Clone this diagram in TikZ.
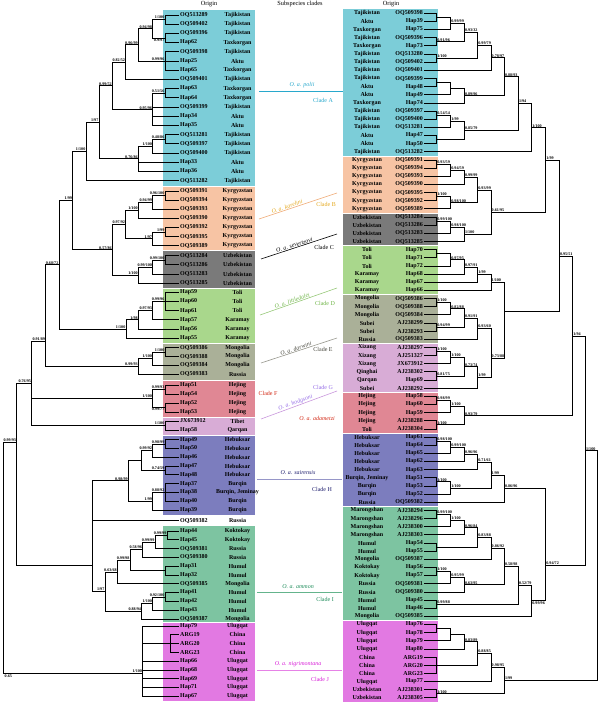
\documentclass[tikz,border=0pt]{standalone}
\usepackage{fontspec}
\setmainfont{Liberation Serif}
\definecolor{cA}{RGB}{124,205,216}
\definecolor{cB}{RGB}{247,196,164}
\definecolor{cC}{RGB}{122,122,122}
\definecolor{cD}{RGB}{169,215,140}
\definecolor{cE}{RGB}{170,176,152}
\definecolor{cF}{RGB}{224,135,148}
\definecolor{cG}{RGB}{216,172,214}
\definecolor{cH}{RGB}{124,125,190}
\definecolor{cI}{RGB}{125,196,161}
\definecolor{cJ}{RGB}{226,121,226}
\definecolor{tA}{RGB}{40,168,204}
\definecolor{tB}{RGB}{228,168,30}
\definecolor{lB}{RGB}{238,165,110}
\definecolor{tD}{RGB}{110,180,70}
\definecolor{lD}{RGB}{150,200,120}
\definecolor{tE}{RGB}{70,70,60}
\definecolor{lE}{RGB}{150,150,140}
\definecolor{tG}{RGB}{150,110,230}
\definecolor{lG}{RGB}{200,150,220}
\definecolor{tF}{RGB}{210,40,20}
\definecolor{tH}{RGB}{30,30,110}
\definecolor{lH}{RGB}{150,150,200}
\definecolor{tI}{RGB}{30,140,90}
\definecolor{lI}{RGB}{100,180,140}
\definecolor{tJ}{RGB}{215,30,215}
\definecolor{lJ}{RGB}{230,130,230}
\newcommand{\LL}[4]{\node[lf] (L#1) at (179,#2) {#3}; \node[og] (OL#1) at (237.5,#2) {#4};}
\newcommand{\RL}[3]{\node[rf] (R#1) at (424,{13.3+(#1-1)*8.15}) {#2}; \node[og] (OR#1) at (367,{13.3+(#1-1)*8.15}) {#3};}
\newcommand{\N}[3]{\coordinate (#1) at (#2,#3);}
\newcommand{\E}[2]{\foreach \ch in {#2}{\draw[br] (#1) |- (\ch);}}
\newcommand{\SA}[2]{\node[sl,anchor=south east] (s-#1) at (#1) {#2};}
\newcommand{\SB}[2]{\node[sl,anchor=north east] (s-#1) at (#1) {#2};}
\newcommand{\RA}[2]{\node[sl,anchor=south west] (s-#1) at (#1) {#2};}
\newcommand{\RB}[2]{\node[sl,anchor=north west] (s-#1) at (#1) {#2};}
\begin{document}
\begin{tikzpicture}[x=1pt,y=-1pt,
  br/.style={line width=0.85pt,black},
  lf/.style={font=\fontsize{6}{7}\selectfont\bfseries,inner sep=1pt,anchor=west},
  rf/.style={font=\fontsize{6}{7}\selectfont\bfseries,inner sep=1pt,anchor=east},
  og/.style={font=\fontsize{6}{7}\selectfont\bfseries,inner sep=0pt},
  sl/.style={font=\fontsize{4.1}{5}\selectfont\bfseries,inner sep=0.5pt},
  hd/.style={font=\fontsize{6.3}{7}\selectfont,inner sep=0pt,anchor=base},
  mt/.style={font=\fontsize{6}{7}\selectfont,inner sep=0.5pt},
  ml/.style={line width=0.6pt}]
\useasboundingbox (0,0) rectangle (600,703);
% ---------- boxes left
\fill[cA] (163,10.5) rectangle (255,186.3);
\fill[cB] (163,187.3) rectangle (255,250);
\fill[cC] (163,251) rectangle (255,287.8);
\fill[cD] (163,288.8) rectangle (255,342.8);
\fill[cE] (163,343.8) rectangle (255,379.5);
\fill[cF] (163,380.5) rectangle (255,416.5);
\fill[cG] (163,417.5) rectangle (255,434.8);
\fill[cH] (163,435.8) rectangle (255,515.2);
\fill[cI] (163,526.2) rectangle (255,621.5);
\fill[cJ] (163,622.5) rectangle (255,700.7);
% ---------- boxes right
\fill[cA] (343,9.5) rectangle (438,155.9);
\fill[cB] (343,156.9) rectangle (438,212.9);
\fill[cC] (343,213.9) rectangle (438,245.3);
\fill[cD] (343,246.3) rectangle (438,294.2);
\fill[cE] (343,295.2) rectangle (438,343);
\fill[cG] (343,344) rectangle (438,391.9);
\fill[cF] (343,392.9) rectangle (438,432.6);
\fill[cH] (343,433.6) rectangle (438,505.9);
\fill[cI] (343,506.9) rectangle (438,620.1);
\fill[cJ] (343,621.1) rectangle (438,701.8);
% ---------- headers
\node[hd] (h1) at (209,6) {Origin};
\node[hd] (h2) at (300,6) {Subspecies clades};
\node[hd] (h3) at (391,6) {Origin};
% ---------- left leaves
\LL{1}{15}{OQ513289}{Tajikistan}
\LL{2}{24.2}{OQ509402}{Tajikistan}
\LL{3}{33.4}{OQ509396}{Tajikistan}
\LL{4}{42.6}{Hap62}{Taxkorgan}
\LL{5}{51.8}{OQ509398}{Tajikistan}
\LL{6}{61}{Hap25}{Aktu}
\LL{7}{70.2}{Hap65}{Taxkorgan}
\LL{8}{79.4}{OQ509401}{Tajikistan}
\LL{9}{88.6}{Hap63}{Taxkorgan}
\LL{10}{97.8}{Hap64}{Taxkorgan}
\LL{11}{107}{OQ509399}{Tajikistan}
\LL{12}{116.2}{Hap34}{Aktu}
\LL{13}{125.4}{Hap35}{Aktu}
\LL{14}{134.6}{OQ513281}{Tajikistan}
\LL{15}{143.8}{OQ509397}{Tajikistan}
\LL{16}{153}{OQ509400}{Tajikistan}
\LL{17}{162.2}{Hap33}{Aktu}
\LL{18}{171.4}{Hap36}{Aktu}
\LL{19}{180.6}{OQ513282}{Tajikistan}
\LL{20}{191}{OQ509391}{Kyrgyzstan}
\LL{21}{200.1}{OQ509394}{Kyrgyzstan}
\LL{22}{209.2}{OQ509393}{Kyrgyzstan}
\LL{23}{218.3}{OQ509390}{Kyrgyzstan}
\LL{24}{227.4}{OQ509392}{Kyrgyzstan}
\LL{25}{236.5}{OQ509395}{Kyrgyzstan}
\LL{26}{245.6}{OQ509389}{Kyrgyzstan}
\LL{27}{255.7}{OQ513284}{Uzbekistan}
\LL{28}{264.9}{OQ513286}{Uzbekistan}
\LL{29}{274.1}{OQ513283}{Uzbekistan}
\LL{30}{283.3}{OQ513285}{Uzbekistan}
\LL{31}{292.3}{Hap59}{Toli}
\LL{32}{301.5}{Hap60}{Toli}
\LL{33}{310.7}{Hap61}{Toli}
\LL{34}{319.9}{Hap57}{Karamay}
\LL{35}{329.1}{Hap56}{Karamay}
\LL{36}{338.3}{Hap55}{Karamay}
\LL{37}{347.7}{OQ509386}{Mongolia}
\LL{38}{356.5}{OQ509388}{Mongolia}
\LL{39}{365.3}{OQ509384}{Mongolia}
\LL{40}{374}{OQ509383}{Russia}
\LL{41}{385}{Hap51}{Hejing}
\LL{42}{394}{Hap54}{Hejing}
\LL{43}{403}{Hap52}{Hejing}
\LL{44}{412}{Hap53}{Hejing}
\LL{45}{421}{JX673912}{Tibet}
\LL{46}{430.3}{Hap58}{Qarqan}
\LL{47}{439.7}{Hap49}{Hebuksar}
\LL{48}{448.5}{Hap50}{Hebuksar}
\LL{49}{457.3}{Hap46}{Hebuksar}
\LL{50}{466.1}{Hap47}{Hebuksar}
\LL{51}{474.9}{Hap48}{Hebuksar}
\LL{52}{483.7}{Hap37}{Burqin}
\LL{53}{492.4}{Hap38}{Burqin, Jeminay}
\LL{54}{501.2}{Hap40}{Burqin}
\LL{55}{510}{Hap39}{Burqin}
\LL{56}{520.7}{OQ509382}{Russia}
\LL{57}{531}{Hap44}{Koktokay}
\LL{58}{539.8}{Hap45}{Koktokay}
\LL{59}{548.6}{OQ509381}{Russia}
\LL{60}{557.4}{OQ509380}{Russia}
\LL{61}{566.2}{Hap31}{Humul}
\LL{62}{575}{Hap32}{Humul}
\LL{63}{583.8}{OQ509385}{Mongolia}
\LL{64}{592.6}{Hap41}{Humul}
\LL{65}{601.4}{Hap42}{Humul}
\LL{66}{610.2}{Hap43}{Humul}
\LL{67}{619}{OQ509387}{Mongolia}
\LL{68}{626}{Hap79}{Ulugqat}
\LL{69}{634.8}{ARG19}{China}
\LL{70}{643.6}{ARG20}{China}
\LL{71}{652.4}{ARG23}{China}
\LL{72}{661.2}{Hap66}{Ulugqat}
\LL{73}{670}{Hap68}{Ulugqat}
\LL{74}{678.7}{Hap69}{Ulugqat}
\LL{75}{687.5}{Hap71}{Ulugqat}
\LL{76}{696.3}{Hap67}{Ulugqat}
% ---------- right leaves
\RL{1}{OQ509398}{Tajikistan}
\RL{2}{Hap39}{Aktu}
\RL{3}{Hap75}{Taxkorgan}
\RL{4}{OQ509396}{Tajikistan}
\RL{5}{Hap73}{Taxkorgan}
\RL{6}{OQ513280}{Tajikistan}
\RL{7}{OQ509402}{Tajikistan}
\RL{8}{OQ509401}{Tajikistan}
\RL{9}{OQ509399}{Tajikistan}
\RL{10}{Hap48}{Aktu}
\RL{11}{Hap49}{Aktu}
\RL{12}{Hap74}{Taxkorgan}
\RL{13}{OQ509397}{Tajikistan}
\RL{14}{OQ509400}{Tajikistan}
\RL{15}{OQ513281}{Tajikistan}
\RL{16}{Hap47}{Aktu}
\RL{17}{Hap50}{Aktu}
\RL{18}{OQ513282}{Tajikistan}
\RL{19}{OQ509391}{Kyrgyzstan}
\RL{20}{OQ509394}{Kyrgyzstan}
\RL{21}{OQ509393}{Kyrgyzstan}
\RL{22}{OQ509390}{Kyrgyzstan}
\RL{23}{OQ509395}{Kyrgyzstan}
\RL{24}{OQ509392}{Kyrgyzstan}
\RL{25}{OQ509389}{Kyrgyzstan}
\RL{26}{OQ513284}{Uzbekistan}
\RL{27}{OQ513286}{Uzbekistan}
\RL{28}{OQ513283}{Uzbekistan}
\RL{29}{OQ513285}{Uzbekistan}
\RL{30}{Hap70}{Toli}
\RL{31}{Hap71}{Toli}
\RL{32}{Hap72}{Toli}
\RL{33}{Hap68}{Karamay}
\RL{34}{Hap67}{Karamay}
\RL{35}{Hap66}{Karamay}
\RL{36}{OQ509386}{Mongolia}
\RL{37}{OQ509388}{Mongolia}
\RL{38}{OQ509384}{Mongolia}
\RL{39}{AJ238299}{Subei}
\RL{40}{AJ238293}{Subei}
\RL{41}{OQ509383}{Russia}
\RL{42}{AJ238297}{Xizang}
\RL{43}{AJ251327}{Xizang}
\RL{44}{JX673912}{Xizang}
\RL{45}{AJ238302}{Qinghai}
\RL{46}{Hap69}{Qarqan}
\RL{47}{AJ238292}{Subei}
\RL{48}{Hap58}{Hejing}
\RL{49}{Hap60}{Hejing}
\RL{50}{Hap59}{Hejing}
\RL{51}{AJ238288}{Hejing}
\RL{52}{AJ238304}{Toli}
\RL{53}{Hap61}{Hebuksar}
\RL{54}{Hap64}{Hebuksar}
\RL{55}{Hap65}{Hebuksar}
\RL{56}{Hap62}{Hebuksar}
\RL{57}{Hap63}{Hebuksar}
\RL{58}{Hap51}{Burqin, Jeminay}
\RL{59}{Hap53}{Burqin}
\RL{60}{Hap52}{Burqin}
\RL{61}{OQ509382}{Russia}
\RL{62}{AJ238294}{Marongshan}
\RL{63}{AJ238296}{Marongshan}
\RL{64}{AJ238300}{Marongshan}
\RL{65}{AJ238303}{Marongshan}
\RL{66}{Hap54}{Humul}
\RL{67}{Hap55}{Humul}
\RL{68}{OQ509387}{Mongolia}
\RL{69}{Hap56}{Koktokay}
\RL{70}{Hap57}{Koktokay}
\RL{71}{OQ509381}{Russia}
\RL{72}{OQ509380}{Russia}
\RL{73}{Hap45}{Humul}
\RL{74}{Hap46}{Humul}
\RL{75}{OQ509385}{Mongolia}
\RL{76}{Hap76}{Ulugqat}
\RL{77}{Hap78}{Ulugqat}
\RL{78}{Hap79}{Ulugqat}
\RL{79}{Hap80}{Ulugqat}
\RL{80}{ARG19}{China}
\RL{81}{ARG20}{China}
\RL{82}{ARG23}{China}
\RL{83}{Hap77}{Ulugqat}
\RL{84}{AJ238301}{Uzbekistan}
\RL{85}{AJ238305}{Uzbekistan}
% ---------- left tree nodes
\N{a1}{165}{19.6} \N{a2}{165}{38} \N{a3}{152.7}{28.8} \N{a4}{165}{61}
\N{a5}{138.3}{44.9} \N{a6}{125.7}{62.2} \N{a7}{165}{93.2} \N{a8}{152.7}{109.8}
\N{a9}{112.3}{85.8} \N{a10}{165}{139.2} \N{a11}{152.7}{146.1} \N{a12}{138.3}{158.8}
\N{a13}{99}{122.3} \N{a14}{86}{151.5}
\N{b1}{165}{195.5} \N{b2}{152.7}{202.4} \N{b3}{138.3}{210.3} \N{b4}{165}{232}
\N{b5}{152.7}{238.8} \N{b6}{125.7}{224.5}
\N{c1}{165}{260.3} \N{c2}{152.7}{267.2} \N{c3}{138.3}{275.3}
\N{bc}{112.3}{249.9} \N{abc}{72.7}{200.7}
\N{d1}{165}{301.5} \N{d2}{152.7}{310.7} \N{d3}{138.3}{319.9} \N{d4}{126}{329.1}
\N{abcd}{59}{264.9}
\N{e1}{165}{352.1} \N{e2}{152.7}{358.7} \N{e3}{138.3}{366.4}
\N{abcde}{45.7}{341.7}
\N{f1}{165}{389.5} \N{f2}{165}{407.5} \N{f3}{152.7}{398.5}
\N{g1}{165}{425.7} \N{efg}{31.7}{383.4}
\N{h1}{165}{444.1} \N{h2}{152.7}{450.7} \N{h3}{165}{470.5} \N{h4}{141.7}{460.6}
\N{h5}{165}{492.4} \N{h6}{152.7}{501} \N{h7}{128.3}{480.8}
\N{i1}{167}{535.4} \N{i2}{155}{542} \N{i3}{142.7}{549.7} \N{i4}{165}{570.6}
\N{i5}{130}{560.2} \N{i6}{117.3}{572} \N{i7}{165}{597} \N{i8}{152.7}{603.6}
\N{i9}{141.7}{611.3} \N{i10}{105}{591.7}
\N{hi}{92.7}{565} \N{x16}{16.7}{442}
\N{j1}{170}{643.6} \N{j2}{142.7}{673.3}
\N{root}{3.3}{560}
% ---------- left tree edges
\E{a1}{L1.west,L2.west}
\E{a2}{L3.west,L4.west}
\E{a3}{a1,a2}
\E{a4}{L5.west,L6.west,L7.west}
\E{a5}{a3,a4}
\E{a6}{a5,L8.west}
\E{a7}{L9.west,L10.west}
\E{a8}{a7,L11.west,L12.west,L13.west}
\E{a9}{a6,a8}
\E{a10}{L14.west,L15.west}
\E{a11}{a10,L16.west}
\E{a12}{a11,L17.west,L18.west}
\E{a13}{a9,a12}
\E{a14}{a13,L19.west}
\E{b1}{L20.west,L21.west}
\E{b2}{b1,L22.west}
\E{b3}{b2,L23.west}
\E{b4}{L24.west,L25.west}
\E{b5}{b4,L26.west}
\E{b6}{b3,b5}
\E{c1}{L27.west,L28.west}
\E{c2}{c1,L29.west}
\E{c3}{c2,L30.west}
\E{bc}{b6,c3}
\E{abc}{a14,bc}
\E{d1}{L31.west,L32.west,L33.west}
\E{d2}{d1,L34.west}
\E{d3}{d2,L35.west}
\E{d4}{d3,L36.west}
\E{abcd}{abc,d4}
\E{e1}{L37.west,L38.west}
\E{e2}{e1,L39.west}
\E{e3}{e2,L40.west}
\E{abcde}{abcd,e3}
\E{f1}{L41.west,L42.west}
\E{f2}{L43.west,L44.west}
\E{f3}{f1,f2}
\E{g1}{L45.west,L46.west}
\E{efg}{abcde,f3,g1}
\E{h1}{L47.west,L48.west}
\E{h2}{h1,L49.west}
\E{h3}{L50.west,L51.west}
\E{h4}{h2,h3}
\E{h5}{L52.west,L53.west,L54.west}
\E{h6}{h5,L55.west}
\E{h7}{h4,h6}
\E{i1}{L57.west,L58.west}
\E{i2}{i1,L59.west}
\E{i3}{i2,L60.west}
\E{i4}{L61.west,L62.west}
\E{i5}{i3,i4}
\E{i6}{i5,L63.west}
\E{i7}{L64.west,L65.west}
\E{i8}{i7,L66.west}
\E{i9}{i8,L67.west}
\E{i10}{i6,i9}
\E{hi}{h7,L56.west,i10}
\E{x16}{efg,hi}
\E{j1}{L69.west,L70.west,L71.west}
\E{j2}{L68.west,j1,L72.west,L73.west,L74.west,L75.west,L76.west}
\E{root}{x16,j2}
% ---------- left support labels
\SA{a1}{1/100} \SB{a2}{0.9/97} \SA{a3}{0.94/98} \SA{a4}{0.99/96}
\SA{a5}{0.96/99} \SA{a6}{0.82/52} \SA{a7}{0.51/56} \SA{a8}{0.95/96}
\SA{a9}{0.99/52} \SA{a10}{0.48/86} \SA{a11}{1/100} \SA{a12}{0.76/86}
\SA{a13}{1/97} \SA{a14}{1/100}
\SA{b1}{0.96/100} \SA{b2}{0.94/99} \SA{b3}{1/100} \SA{b4}{1/99} \SA{b5}{1/97} \SA{b6}{0.97/92}
\SA{c1}{0.99/100} \SA{c2}{0.99/100} \SA{c3}{1/100} \SA{bc}{0.57/86} \SA{abc}{1/99}
\SA{d1}{0.99/96} \SA{d2}{0.97/93} \SA{d3}{1/98} \SA{d4}{1/100} \SA{abcd}{0.68/72}
\SA{e1}{1/100} \SA{e2}{1/100} \SA{e3}{0.99/93} \SA{abcde}{0.91/89}
\SA{f1}{0.99/93} \SB{f2}{0.99/77} \SA{f3}{1/100} \SA{g1}{1/100} \SA{efg}{0.76/95}
\SA{h1}{0.98/99} \SA{h2}{0.99/92} \SA{h3}{0.74/59} \SA{h5}{0.88/92} \SA{h6}{1/99} \SA{h7}{0.98/99}
\SA{i1}{0.99/99} \SA{i2}{0.99/99} \SA{i3}{0.58/96} \SA{i5}{0.99/98} \SA{i6}{0.63/68}
\SA{i7}{0.92/100} \SA{i8}{1/100} \SA{i9}{0.88/94} \SA{i10}{1/97}
\SA{x16}{0.99/93} \SA{j2}{1/100}
\node[sl,anchor=north west] (s-root) at (4,674.5) {0.65};
% ---------- right tree nodes
\def\Xa{436.7}\def\Xb{450.7}\def\Xc{464.3}\def\Xd{477.7}\def\Xe{491}\def\Xf{504.3}
\def\Xg{518.3}\def\Xh{531.7}\def\Xi{545.7}\def\Xj{559.3}\def\Xk{572.7}\def\Xl{585.3}\def\Xm{597.7}
\N{r1}{\Xa}{17.4} \N{r2}{\Xb}{23.5} \N{r3}{\Xa}{41.8} \N{r4}{\Xc}{32.7}
\N{r5}{\Xa}{58.1} \N{r6}{\Xd}{45.4} \N{r7}{\Xe}{57.9} \N{r8}{\Xa}{82.6}
\N{r9}{\Xb}{88.7} \N{r10}{\Xc}{95.8} \N{r11}{\Xf}{76.9} \N{r12}{\Xa}{115.2}
\N{r13}{\Xb}{121.3} \N{r14}{\Xa}{139.6} \N{r15}{\Xc}{130.5} \N{r16}{\Xg}{103.7}
\N{r17}{\Xh}{127.8}
\N{s1}{\Xa}{164.1} \N{s2}{\Xb}{170.2} \N{s3}{\Xc}{177.3} \N{s4}{\Xa}{196.7}
\N{s5}{\Xb}{202.8} \N{s6}{\Xd}{190}
\N{t1}{\Xa}{221.1} \N{t2}{\Xb}{227.2} \N{t3}{\Xc}{234.3}
\N{bcr}{\Xe}{212.2} \N{abcr}{\Xi}{160}
\N{u1}{\Xa}{253.7} \N{u2}{\Xb}{259.9} \N{u3}{\Xc}{267} \N{u4}{\Xd}{274.7} \N{u5}{\Xe}{282.6}
\N{v1}{\Xa}{302.6} \N{v2}{\Xb}{308.8} \N{v3}{\Xa}{327.1} \N{v4}{\Xc}{318} \N{v5}{\Xd}{328.7}
\N{w1}{\Xa}{351.5} \N{w2}{\Xb}{357.6} \N{w3}{\Xa}{376} \N{w4}{\Xc}{366.8} \N{w5}{\Xd}{377.5}
\N{eg}{\Xe}{358} \N{deg}{\Xf}{311.7} \N{x10}{\Xj}{256.7}
\N{x1}{\Xa}{400.4} \N{x2}{\Xb}{406.6} \N{x3}{\Xa}{424.9} \N{x4}{\Xc}{415.8}
\N{x11}{\Xk}{336.3}
\N{y1}{\Xa}{441.2} \N{y2}{\Xb}{447.3} \N{y3}{\Xc}{454.5} \N{y4}{\Xd}{462.1}
\N{y5}{\Xa}{481.9} \N{y6}{\Xb}{488.1} \N{y7}{\Xe}{475.1} \N{y8}{\Xf}{488.7}
\N{z1}{\Xa}{514.5} \N{z2}{\Xb}{520.7} \N{z3}{\Xc}{527.8} \N{z4}{\Xa}{547.1}
\N{z5}{\Xd}{537.5} \N{z6}{\Xe}{548.4} \N{z7}{\Xa}{571.6} \N{z8}{\Xb}{577.7}
\N{z9}{\Xc}{584.8} \N{z10}{\Xf}{566.6} \N{z11}{\Xa}{604.2} \N{z12}{\Xg}{585.4}
\N{z13}{\Xh}{600.9} \N{hir}{\Xi}{565} \N{x12}{\Xl}{450.8}
\N{q1}{\Xa}{628.6} \N{q2}{\Xb}{634.7} \N{q3}{\Xc}{641.9} \N{q4}{\Xa}{665.3}
\N{q5}{\Xd}{653.6} \N{q6}{\Xe}{667.6} \N{q7}{\Xa}{693.8} \N{q8}{\Xf}{680.7}
\N{rootR}{\Xm}{560}
% ---------- right tree edges
\E{r1}{R1.east,R2.east}
\E{r2}{r1,R3.east}
\E{r3}{R4.east,R5.east}
\E{r4}{r2,r3}
\E{r5}{R6.east,R7.east}
\E{r6}{r4,r5}
\E{r7}{r6,R8.east}
\E{r8}{R9.east,R10.east}
\E{r9}{r8,R11.east}
\E{r10}{r9,R12.east}
\E{r11}{r7,r10}
\E{r12}{R13.east,R14.east}
\E{r13}{r12,R15.east}
\E{r14}{R16.east,R17.east}
\E{r15}{r13,r14}
\E{r16}{r11,r15}
\E{r17}{r16,R18.east}
\E{s1}{R19.east,R20.east}
\E{s2}{s1,R21.east}
\E{s3}{s2,R22.east}
\E{s4}{R23.east,R24.east}
\E{s5}{s4,R25.east}
\E{s6}{s3,s5}
\E{t1}{R26.east,R27.east}
\E{t2}{t1,R28.east}
\E{t3}{t2,R29.east}
\E{bcr}{s6,t3}
\E{abcr}{r17,bcr}
\E{u1}{R30.east,R31.east}
\E{u2}{u1,R32.east}
\E{u3}{u2,R33.east}
\E{u4}{u3,R34.east}
\E{u5}{u4,R35.east}
\E{v1}{R36.east,R37.east}
\E{v2}{v1,R38.east}
\E{v3}{R39.east,R40.east}
\E{v4}{v2,v3}
\E{v5}{v4,R41.east}
\E{w1}{R42.east,R43.east}
\E{w2}{w1,R44.east}
\E{w3}{R45.east,R46.east}
\E{w4}{w2,w3}
\E{w5}{w4,R47.east}
\E{eg}{v5,w5}
\E{deg}{u5,eg}
\E{x10}{abcr,deg}
\E{x1}{R48.east,R49.east}
\E{x2}{x1,R50.east}
\E{x3}{R51.east,R52.east}
\E{x4}{x2,x3}
\E{x11}{x10,x4}
\E{y1}{R53.east,R54.east}
\E{y2}{y1,R55.east}
\E{y3}{y2,R56.east}
\E{y4}{y3,R57.east}
\E{y5}{R58.east,R59.east}
\E{y6}{y5,R60.east}
\E{y7}{y4,y6}
\E{y8}{y7,R61.east}
\E{z1}{R62.east,R63.east}
\E{z2}{z1,R64.east}
\E{z3}{z2,R65.east}
\E{z4}{R66.east,R67.east}
\E{z5}{z3,z4}
\E{z6}{z5,R68.east}
\E{z7}{R69.east,R70.east}
\E{z8}{z7,R71.east}
\E{z9}{z8,R72.east}
\E{z10}{z6,z9}
\E{z11}{R73.east,R74.east}
\E{z12}{z10,z11}
\E{z13}{z12,R75.east}
\E{hir}{y8,z13}
\E{x12}{x11,hir}
\E{q1}{R76.east,R77.east}
\E{q2}{q1,R78.east}
\E{q3}{q2,R79.east}
\E{q4}{R80.east,R81.east,R82.east}
\E{q5}{q3,q4}
\E{q6}{q5,R83.east}
\E{q7}{R84.east,R85.east}
\E{q8}{q6,q7}
\E{rootR}{x12,q8}
% ---------- right support labels
\RA{r2}{0.99/99} \RA{r3}{0.91/96} \RA{r4}{0.93/32} \RA{r5}{1/100} \RA{r6}{0.99/79}
\RA{r7}{0.78/97} \RA{r10}{0.89/96} \RA{r11}{0.88/93} \RA{r12}{0.54/54} \RA{r13}{1/99}
\RA{r15}{0.85/79} \RA{r16}{1/94} \RA{r17}{1/100}
\RA{s1}{0.93/59} \RA{s2}{0.94/59} \RA{s3}{0.99/99} \RA{s4}{1/100} \RA{s5}{0.98/100} \RA{s6}{0.93/99}
\RA{t1}{0.99/100} \RA{t2}{0.98/100} \RA{t3}{1/100} \RA{bcr}{0.61/95} \RA{abcr}{1/99}
\RA{u2}{0.97/95} \RA{u3}{0.97/91} \RA{u4}{1/99} \RA{u5}{1/100}
\RA{v1}{1/100} \RA{v2}{0.82/88} \RA{v3}{0.94/99} \RA{v4}{0.91/91} \RA{v5}{0.93/60}
\RA{w1}{1/100} \RA{w2}{1/100} \RA{w3}{0.81/75} \RA{w4}{0.73/74} \RA{w5}{1/99} \RA{eg}{0.73/88}
\RA{x10}{0.95/51} \RA{x1}{0.98/99} \RA{x2}{1/100} \RA{x3}{1/100} \RA{x4}{0.93/79} \RA{x11}{1/94}
\RA{y1}{0.98/100} \RA{y2}{0.99/100} \RA{y3}{0.96/96} \RA{y4}{0.71/61} \RA{y5}{1/100} \RA{y6}{1/100}
\RA{y7}{1/99} \RA{y8}{0.86/96}
\RA{z1}{0.99/100} \RA{z2}{1/100} \RA{z3}{0.96/84} \RA{z5}{0.83/88} \RA{z6}{0.86/92}
\RA{z7}{1/100} \RA{z8}{0.95/99} \RA{z9}{0.63/95} \RA{z10}{0.58/98} \RA{z11}{0.99/88}
\RA{z12}{0.52/79} \RB{z13}{0.99/96} \RA{hir}{0.94/72} \RA{x12}{1/100}
\RA{q3}{0.83/89} \RA{q5}{0.88/85} \RA{q6}{0.98/95} \RA{q7}{1/100} \RA{q8}{1/99}
% ---------- subspecies clades (middle)
\draw[ml,tA] (259,91.7) coordinate (pa1) -- (343,91.7) coordinate (pa2);
\node[mt,text=tA] (spA) at (302,85.5) {\textit{O. a. polii}};
\node[mt,text=tA] (clA) at (323,100) {Clade A};
\draw[ml,lB] (259,219) coordinate (pb1) -- node[mt,pos=0.37,sloped,above,text=tB] (spB) {\textit{O. a. karelini}} (337,193) coordinate (pb2);
\node[mt,text=tB] (clB) at (326,204) {Clade B};
\draw[ml,black] (261,259) coordinate (pc1) -- node[mt,pos=0.45,sloped,above,text=black] (spC) {\textit{O. a. severtzovi}} (337,234) coordinate (pc2);
\node[mt,text=black] (clC) at (324,247) {Clade C};
\draw[ml,lD] (260,315) coordinate (pd1) -- node[mt,pos=0.43,sloped,above,text=tD] (spD) {\textit{O. a. littledalei}} (337,288) coordinate (pd2);
\node[mt,text=tD] (clD) at (325,303) {Clade D};
\draw[ml,lE] (261,363) coordinate (pe1) -- node[mt,pos=0.47,sloped,above,text=tE] (spE) {\textit{O. a. darwini}} (337,338) coordinate (pe2);
\node[mt,text=tE] (clE) at (323,349) {Clade E};
\draw[ml,lG] (261,419) coordinate (pg1) -- node[mt,pos=0.47,sloped,above,text=tG] (spG) {\textit{O. a. hodgsoni}} (337,391) coordinate (pg2);
\node[mt,text=tG] (clG) at (323,387) {Clade G};
\node[mt,text=tF] (clF) at (268,393) {Clade F};
\node[mt,text=tF] (spF) at (317,418) {\textit{O. a. adametzi}};
\draw[ml,lH] (257,479) coordinate (ph1) -- (342,479) coordinate (ph2);
\node[mt,text=tH] (spH) at (298,473) {\textit{O. a. sairensis}};
\node[mt,text=tH] (clH) at (322,489) {Clade H};
\draw[ml,lI] (257,592) coordinate (pi1) -- (342,592) coordinate (pi2);
\node[mt,text=tI] (spI) at (298,587) {\textit{O. a. ammon}};
\node[mt,text=tI] (clI) at (325,599) {Clade I};
\draw[ml,lJ] (257,670) coordinate (pj1) -- (342,670) coordinate (pj2);
\node[mt,text=tJ] (spJ) at (298,664) {\textit{O. a. nigrimontana}};
\node[mt,text=tJ] (clJ) at (320,679) {Clade J};
\end{tikzpicture}
\end{document}
